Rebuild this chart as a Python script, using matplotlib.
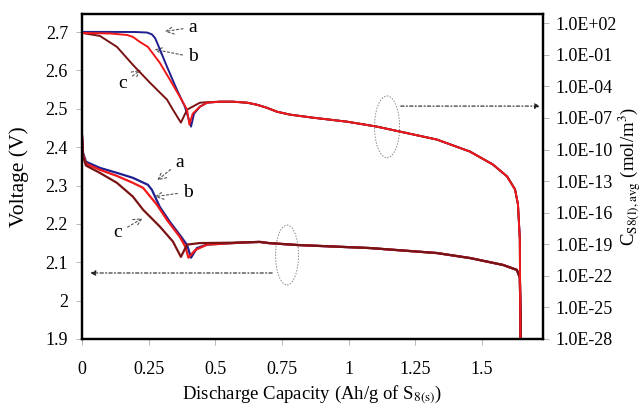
import numpy as np
import matplotlib
matplotlib.use("Agg")
import matplotlib.pyplot as plt
from matplotlib.patches import Ellipse
from matplotlib.ticker import FixedLocator, FuncFormatter, NullLocator

plt.rcParams["font.family"] = ["Liberation Serif", "DejaVu Serif"]
plt.rcParams["mathtext.fontset"] = "stix"

# voltage curves (left axis): a, b, c start parts + shared tail
cap_va = [0, 0.004, 0.015, 0.067, 0.131, 0.191, 0.247, 0.262, 0.292, 0.330, 0.367, 0.394, 0.409, 0.431, 0.469, 0.566]
v_a = [2.43, 2.385, 2.362, 2.346, 2.333, 2.320, 2.302, 2.289, 2.244, 2.205, 2.171, 2.145, 2.112, 2.137, 2.146, 2.150]
cap_vb = [0, 0.004, 0.015, 0.067, 0.131, 0.191, 0.229, 0.281, 0.319, 0.367, 0.388, 0.399, 0.425, 0.469, 0.566]
v_b = [2.43, 2.38, 2.357, 2.341, 2.325, 2.307, 2.294, 2.250, 2.210, 2.166, 2.140, 2.112, 2.132, 2.146, 2.150]
cap_vc = [0, 0.004, 0.015, 0.067, 0.131, 0.191, 0.229, 0.292, 0.341, 0.371, 0.394, 0.442, 0.566]
v_c = [2.43, 2.375, 2.352, 2.333, 2.307, 2.271, 2.237, 2.193, 2.154, 2.114, 2.146, 2.150, 2.151]
cap_vtail = [0.62, 0.667, 0.70, 0.806, 1.08, 1.331, 1.455, 1.579, 1.631, 1.642, 1.645, 1.646]
v_tail = [2.152, 2.153, 2.150, 2.145, 2.137, 2.124, 2.111, 2.093, 2.080, 2.060, 1.95, 1.85]

# C_S8(l),avg curves (right axis), given as log10 of mol/m3
cap_ca = [0, 0.1, 0.2, 0.244, 0.262, 0.274, 0.281, 0.319, 0.356, 0.386, 0.409, 0.42, 0.442, 0.469]
logc_a = [1.18, 1.18, 1.17, 1.12, 0.95, 0.60, 0.20, -2.14, -4.32, -5.93, -7.82, -6.6, -5.93, -5.55]
cap_cb = [0, 0.105, 0.169, 0.191, 0.217, 0.247, 0.292, 0.330, 0.367, 0.394, 0.403, 0.415, 0.442, 0.469]
logc_b = [1.08, 1.03, 0.89, 0.70, 0.23, -0.24, -1.76, -3.37, -4.98, -6.21, -7.63, -6.6, -5.93, -5.55]
cap_cc = [0, 0.067, 0.131, 0.191, 0.255, 0.319, 0.341, 0.371, 0.394, 0.442, 0.469]
logc_c = [1.08, 0.80, -0.24, -1.95, -3.65, -5.26, -6.21, -7.44, -6.21, -5.55, -5.50]
cap_ctail = [0.517, 0.566, 0.62, 0.656, 0.69, 0.731, 0.78, 0.866, 0.994, 1.106, 1.192, 1.331, 1.455, 1.541, 1.594, 1.624, 1.635, 1.642, 1.645]
logc_tail = [-5.45, -5.45, -5.55, -5.74, -6.0, -6.40, -6.68, -6.97, -7.35, -7.82, -8.29, -9.05, -10.19, -11.42, -12.55, -13.78, -15.2, -18.5, -32]

col_a = "#1f1f8f"
col_b = "#f01818"
col_c = "#7a1414"

fig = plt.figure(figsize=(6.44, 4.11), dpi=100)
ax = fig.add_axes([0.1273, 0.1752, 0.7159, 0.7907])
ax2 = ax.twinx()

for cx, vy, col in [(cap_va, v_a, col_a), (cap_vb, v_b, col_b), (cap_vc, v_c, col_c)]:
    ax.plot(cx + cap_vtail, vy + v_tail, color=col, lw=1.6)

for cx, ly, col in [(cap_ca, logc_a, col_a), (cap_cc, logc_c, col_c), (cap_cb, logc_b, col_b)]:
    ax2.plot(cx + cap_ctail, 10.0 ** np.array(ly + logc_tail), color=col, lw=1.4)

ax.set_xlim(0, 1.729)
ax.set_ylim(1.9, 2.747)
ax2.set_yscale("log")
ax2.set_ylim(1e-28, 10 ** 2.88)

ax.xaxis.set_major_locator(FixedLocator([0, 0.25, 0.5, 0.75, 1, 1.25, 1.5]))
ax.xaxis.set_major_formatter(FuncFormatter(lambda v, p: f"{v:g}"))
ax.yaxis.set_major_locator(FixedLocator([1.9, 2.0, 2.1, 2.2, 2.3, 2.4, 2.5, 2.6, 2.7]))
ax.yaxis.set_major_formatter(FuncFormatter(lambda v, p: f"{v:g}"))
ax2.yaxis.set_major_locator(FixedLocator([10.0 ** e for e in range(-28, 3, 3)]))
ax2.yaxis.set_major_formatter(FuncFormatter(lambda v, p: "1.0E%+03d" % round(np.log10(v))))
ax2.yaxis.set_minor_locator(NullLocator())

for a in (ax, ax2):
    for s in a.spines.values():
        s.set_linewidth(1.6)
    a.tick_params(direction="out", length=4, width=0.6, color="#aaaaaa", labelsize=13)
ax.tick_params(axis="x", pad=12)
ax.tick_params(axis="y", pad=6)
ax2.tick_params(axis="y", pad=5)

ax.set_xlabel(r"Discharge Capacity (Ah/g of S$_{\mathrm{8(s)}}$)", fontsize=13.5, labelpad=4)
ax.set_ylabel("Voltage (V)", fontsize=15.5, labelpad=12)
ax2.set_ylabel(r"C$_{\mathrm{S8(l),avg}}$ (mol/m$^3$)", fontsize=13.5, labelpad=0)

# a/b/c labels with dashed open arrows
arr = dict(arrowstyle="->", ls=(0, (2, 2)), color="#555555", lw=0.8)
labels = [("a", (0.416, 2.713), (0.300, 2.700)), ("b", (0.416, 2.635), (0.262, 2.656)),
          ("c", (0.154, 2.567), (0.229, 2.606)), ("a", (0.367, 2.361), (0.274, 2.309)),
          ("b", (0.397, 2.283), (0.262, 2.270)), ("c", (0.135, 2.177), (0.236, 2.218))]
for t, xyt, xyh in labels:
    ax.annotate(t, xy=xyh, xytext=xyt, fontsize=14, ha="center", va="center", arrowprops=arr)

ax.add_patch(Ellipse((1.144, 2.453), 0.094, 0.161, fill=False, ls=(0, (1.5, 1.5)), ec="#888888", lw=0.7))
ax.add_patch(Ellipse((0.769, 2.119), 0.086, 0.156, fill=False, ls=(0, (1.5, 1.5)), ec="#888888", lw=0.7))

dd = dict(arrowstyle="-|>", ls=(0, (3, 2, 1, 2)), color="#222222", lw=0.8, mutation_scale=8)
ax.annotate("", xy=(1.729, 2.507), xytext=(1.185, 2.507), arrowprops=dd)
ax.annotate("", xy=(0.02, 2.072), xytext=(0.724, 2.072), arrowprops=dd)

fig.savefig("out.png", dpi=100)
